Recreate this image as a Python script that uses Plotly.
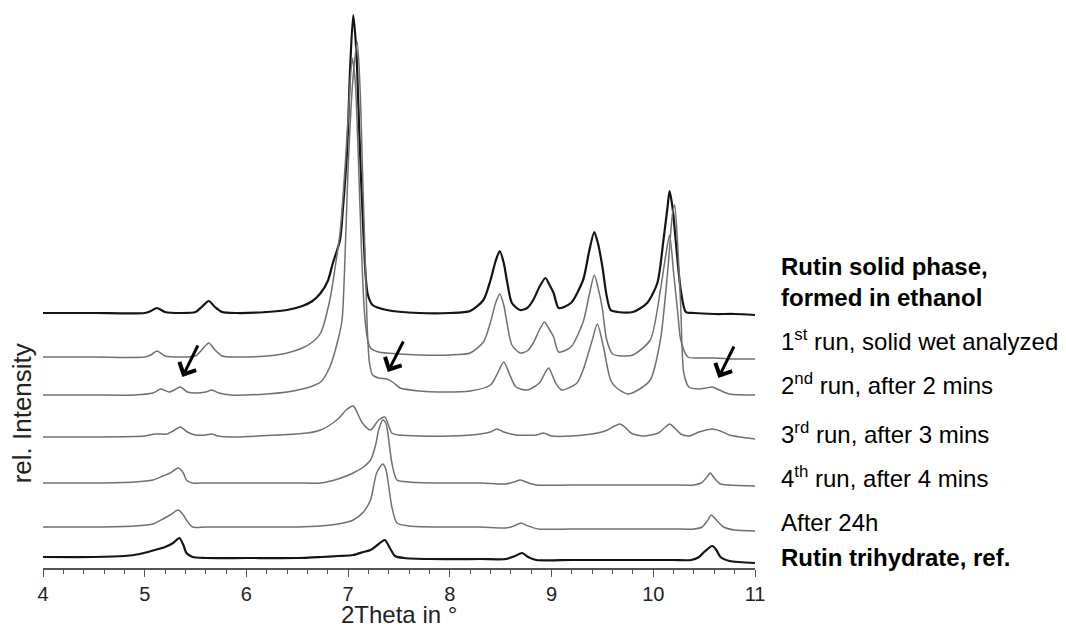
import plotly.graph_objects as go

# ---------------- data (2Theta in degrees, intensity in arbitrary units above each trace's baseline) -------------
labels = [
    "<b>Rutin solid phase,<br>formed in ethanol</b>",
    "1<sup>st</sup> run, solid wet analyzed",
    "2<sup>nd</sup> run, after 2 mins",
    "3<sup>rd</sup> run, after 3 mins",
    "4<sup>th</sup> run, after 4 mins",
    "After 24h",
    "<b>Rutin trihydrate, ref.</b>",
]

x_ethanol = [4.0, 4.5, 5.0, 5.06, 5.12, 5.2, 5.35, 5.5, 5.56, 5.63, 5.69, 5.76, 5.9, 6.2, 6.4, 6.55, 6.65, 6.73,
             6.8, 6.85, 6.92, 6.95, 6.99, 7.02, 7.05, 7.08, 7.11, 7.15, 7.19, 7.24, 7.38, 7.7, 8.0, 8.2, 8.33, 8.4,
             8.45, 8.49, 8.53, 8.56, 8.61, 8.69, 8.76, 8.82, 8.88, 8.94, 8.98, 9.02, 9.07, 9.19, 9.31, 9.37, 9.42,
             9.46, 9.5, 9.54, 9.58, 9.65, 9.8, 9.94, 10.04, 10.1, 10.14, 10.16, 10.19, 10.22, 10.27, 10.32, 10.4,
             10.6, 10.8, 11.0]
y_ethanol = [0, 0, 0, 2, 5, 1, 0, 1, 6, 12, 6, 1, 0, 1, 3, 7, 12, 20,
             32, 50, 73, 106, 163, 246, 298, 263, 180, 80, 20, 8, 3, 0, 0, 2, 13, 33,
             52, 62, 50, 33, 10, 3, 5, 13, 26, 35, 28, 20, 5, 10, 33, 62, 81,
             68, 46, 18, 3, 1, 1, 10, 30, 73, 106, 122, 105, 73, 23, 1, 0,
             -1, -1, -2]

x_run1 = [4.0, 4.5, 5.0, 5.06, 5.12, 5.2, 5.35, 5.5, 5.56, 5.63, 5.69, 5.76, 5.9, 6.2, 6.4, 6.55, 6.65, 6.73, 6.82,
          6.88, 6.92, 6.97, 7.01, 7.04, 7.07, 7.1, 7.13, 7.16, 7.19, 7.22, 7.3, 7.5, 7.7, 8.0, 8.2, 8.33, 8.4, 8.45,
          8.49, 8.53, 8.56, 8.61, 8.69, 8.76, 8.82, 8.88, 8.93, 8.97, 9.02, 9.07, 9.19, 9.31, 9.37, 9.42, 9.46, 9.5,
          9.54, 9.6, 9.7, 9.8, 9.97, 10.07, 10.12, 10.16, 10.2, 10.24, 10.27, 10.34, 10.45, 10.6, 10.8, 11.0]
y_run1 = [0, 0, 0, 2, 6, 1, 0, 1, 7, 14, 7, 1, 0, 1, 4, 9, 15, 24, 57,
          95, 124, 190, 257, 299, 275, 200, 110, 45, 18, 9, 5, 3, 2, 2, 4, 15, 35, 54,
          63, 52, 35, 12, 4, 6, 14, 27, 35, 29, 20, 5, 10, 35, 62, 82, 68, 48,
          18, 3, 1, 2, 17, 67, 100, 122, 84, 45, 17, 0, -1, -1, -2, -2]

x_run2 = [4.0, 4.5, 4.9, 5.08, 5.16, 5.24, 5.29, 5.35, 5.42, 5.5, 5.6, 5.66, 5.73, 5.85, 6.2, 6.4, 6.55, 6.65, 6.73,
          6.82, 6.9, 6.94, 6.97, 7.0, 7.05, 7.09, 7.12, 7.14, 7.17, 7.19, 7.21, 7.24, 7.3, 7.38, 7.45, 7.51, 7.7, 7.9,
          8.2, 8.4, 8.47, 8.53, 8.59, 8.65, 8.76, 8.88, 8.97, 9.04, 9.1, 9.25, 9.31, 9.4, 9.45, 9.51, 9.58, 9.64,
          9.75, 9.85, 9.97, 10.07, 10.14, 10.19, 10.21, 10.24, 10.27, 10.3, 10.35, 10.45, 10.52, 10.58, 10.65,
          10.75, 11.0]
y_run2 = [0, 0, 0, 2, 6, 3, 5, 8, 3, 2, 3, 5, 2, 0, 1, 3, 6, 9, 13,
          28, 55, 75, 140, 228, 320, 353, 300, 228, 128, 62, 32, 20, 17, 16, 12, 7, 4, 3,
          4, 10, 22, 33, 20, 8, 5, 12, 27, 12, 5, 12, 25, 55, 71, 48, 15, 7,
          1, 5, 15, 55, 122, 182, 190, 150, 88, 22, 8, 6, 7, 8, 5,
          1, 0]

x_run3 = [4.0, 4.5, 5.0, 5.1, 5.15, 5.22, 5.28, 5.35, 5.42, 5.5, 5.6, 5.66, 5.72, 5.9, 6.3, 6.6, 6.73, 6.85, 6.92,
          6.98, 7.05, 7.1, 7.14, 7.22, 7.3, 7.36, 7.43, 7.5, 7.7, 8.0, 8.3, 8.4, 8.46, 8.53, 8.65, 8.85, 8.92, 9.0,
          9.2, 9.45, 9.55, 9.62, 9.67, 9.72, 9.78, 9.9, 10.05, 10.12, 10.16, 10.21, 10.27, 10.35, 10.45, 10.58,
          10.66, 10.75, 10.85, 11.0]
y_run3 = [0, 0, 1, 3, 3, 3, 6, 10, 5, 2, 2, 3, 1, 0, 2, 4, 7, 14, 20,
          27, 31, 22, 14, 7, 17, 20, 4, 2, 1, 1, 3, 5, 8, 5, 2, 2, 4, 1,
          1, 4, 7, 11, 13, 10, 4, 1, 4, 10, 13, 9, 3, 1, 5, 8,
          6, 2, 0, -2]

x_run4 = [4.0, 4.5, 4.9, 5.08, 5.18, 5.25, 5.33, 5.38, 5.41, 5.47, 5.6, 6.0, 6.5, 6.73, 6.9, 7.05, 7.15, 7.22, 7.27,
          7.3, 7.34, 7.37, 7.39, 7.43, 7.48, 7.6, 7.88, 8.3, 8.55, 8.63, 8.69, 8.75, 8.85, 9.2, 9.8, 10.2, 10.4,
          10.47, 10.52, 10.56, 10.6, 10.66, 10.75, 11.0]
y_run4 = [0, 0, 1, 3, 7, 10, 15, 10, 3, 0, 0, 0, 0, 0, 4, 10, 16, 23, 38,
          53, 63, 60, 50, 20, 3, 1, 0, 0, -1, 1, 3, 1, -2, -2, -2, -2, -2,
          0, 5, 10, 5, -1, -2, -3]

x_24h = [4.0, 4.5, 4.9, 5.08, 5.18, 5.25, 5.33, 5.38, 5.41, 5.47, 5.6, 6.0, 6.5, 6.73, 6.9, 7.05, 7.15, 7.22, 7.28,
         7.34, 7.37, 7.39, 7.43, 7.48, 7.6, 7.88, 8.3, 8.55, 8.63, 8.7, 8.77, 8.87, 9.2, 9.8, 10.2, 10.4, 10.48,
         10.53, 10.57, 10.62, 10.69, 10.8, 11.0]
y_24h = [0, 0, 1, 3, 8, 12, 17, 12, 7, 0, 0, 0, 0, 1, 3, 7, 15, 27, 54,
         63, 58, 47, 20, 4, 1, 0, 0, -1, 1, 4, 1, -2, -2, -2, -2, -2, 0,
         6, 12, 7, 0, -3, -4]

x_ref = [4.0, 4.5, 4.8, 4.95, 5.1, 5.2, 5.28, 5.34, 5.38, 5.41, 5.47, 5.6, 6.0, 6.5, 6.73, 6.9, 7.05, 7.15, 7.22,
         7.3, 7.36, 7.41, 7.46, 7.55, 7.8, 8.3, 8.55, 8.64, 8.71, 8.77, 8.85, 9.2, 9.8, 10.2, 10.37, 10.45, 10.5,
         10.58, 10.62, 10.66, 10.75, 11.0]
y_ref = [0, 0, 1, 3, 7, 10, 14, 19, 12, 4, 0, -1, -1, -1, 0, 1, 2, 5, 7,
         13, 17, 9, 1, -1, -2, -2, -2, 1, 4, 0, -3, -3, -3, -3, -3, 0, 5,
         11, 7, 0, -4, -6]

series_x = [x_ethanol, x_run1, x_run2, x_run3, x_run4, x_24h, x_ref]
series_y = [y_ethanol, y_run1, y_run2, y_run3, y_run4, y_24h, y_ref]

# ---------------- presentation ----------------
offsets = [255, 211, 173, 131, 85, 41, 11]              # vertical stacking of the patterns
label_y = [286, 228, 184, 135, 91, 46, 11]               # label centres in plot units
colors = ["#141414", "#707070", "#707070", "#707070", "#707070", "#707070", "#141414"]
widths = [2.2, 1.5, 1.5, 1.5, 1.5, 1.5, 2.2]
arrows = [  # (tip x, tip y, tail x, tail y) in data units
    (5.37, 191, 5.53, 224),
    (7.39, 196, 7.55, 228),
    (10.64, 190, 10.80, 223),
]

FONT = "Liberation Sans, Arial, sans-serif"

fig = go.Figure()
for xs, ys, off, c, w in zip(series_x, series_y, offsets, colors, widths):
    fig.add_trace(go.Scatter(
        x=xs, y=[v + off for v in ys], mode="lines",
        line=dict(color=c, width=w, shape="spline", smoothing=0.7),
        hoverinfo="skip", showlegend=False,
    ))

annotations = []
for txt, ly in zip(labels, label_y):
    annotations.append(dict(
        text=txt, xref="paper", x=1.034, xanchor="left",
        yref="y", y=ly, yanchor="middle", align="left", showarrow=False,
        font=dict(family=FONT, size=24, color="#000000"),
    ))
for tx, ty, axx, ayy in arrows:
    annotations.append(dict(
        x=tx, y=ty, ax=axx, ay=ayy, xref="x", yref="y", axref="x", ayref="y",
        showarrow=True, arrowhead=4, arrowsize=1.2, arrowwidth=3, arrowcolor="#000000", text="",
        standoff=0, startstandoff=0,
    ))
annotations.append(dict(
    text="rel. Intensity", textangle=-90, xref="paper", x=-0.029, xanchor="center",
    yref="y", y=155, yanchor="middle", showarrow=False,
    font=dict(family=FONT, size=26, color="#222222"),
))
annotations.append(dict(
    text="2Theta in °", xref="paper", x=0.5, xanchor="center",
    yref="paper", y=-0.083, yanchor="middle", showarrow=False,
    font=dict(family=FONT, size=24, color="#222222"),
))

# page body has an 8px margin, so the figure is 8px smaller than the window
fig.update_layout(
    width=1058, height=621,
    margin=dict(l=35, r=311, t=2, b=61),
    paper_bgcolor="white", plot_bgcolor="white",
    font=dict(family=FONT, size=20, color="#222222"),
    annotations=annotations,
    xaxis=dict(
        range=[4, 11], dtick=1, tick0=4,
        showline=True, linecolor="#555555", linewidth=1.5,
        ticks="outside", ticklen=7, tickwidth=1.3, tickcolor="#555555",
        minor=dict(dtick=0.2, ticks="outside", ticklen=4, tickwidth=1, tickcolor="#555555"),
        showgrid=False, zeroline=False,
        tickfont=dict(family=FONT, size=20, color="#222222"),
    ),
    yaxis=dict(range=[0, 558], visible=False, fixedrange=True),
)

fig.write_html("out.html")
